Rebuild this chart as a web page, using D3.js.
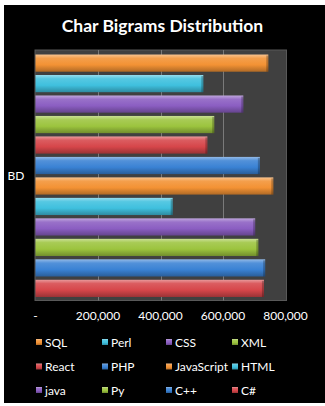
<body style="margin:0">
<script src="https://d3js.org/d3.v7.min.js"></script>
<script>

var title = "Char Bigrams Distribution";
var category = "BD";
var series = ["SQL", "Perl", "CSS", "XML", "React", "PHP", "JavaScript", "HTML", "java", "Py", "C++", "C#"];
var values = [745000, 537000, 665000, 572000, 550000, 718000, 761000, 439000, 703000, 713000, 735000, 731000];
var colors = ["#F39234", "#3FC0DE", "#8B5EC2", "#9CC43E", "#D6464A", "#3A82D4",
              "#F39234", "#3FC0DE", "#8B5EC2", "#9CC43E", "#3A82D4", "#D6464A"];
var ticks = [0, 200000, 400000, 600000, 800000];

var W = 325, H = 406;
var plot = {x: 35, y: 50, w: 251.5, h: 250.5};

var svg = d3.select("body").append("svg")
    .attr("width", W).attr("height", H)
    .style("display", "block")
    .style("font-family", "Lato, 'Open Sans', sans-serif");

svg.append("rect").attr("width", W).attr("height", H).attr("fill", "#fff");
svg.append("rect").attr("x", 4).attr("y", 5).attr("width", W - 4).attr("height", 398).attr("fill", "#000");

// gradients for the bevelled bars
var defs = svg.append("defs");
colors.forEach(function(c, i) {
  var g = defs.append("linearGradient").attr("id", "g" + i)
      .attr("x1", 0).attr("y1", 0).attr("x2", 0).attr("y2", 1);
  g.append("stop").attr("offset", 0).attr("stop-color", d3.interpolateRgb(c, "#fff")(0.45));
  g.append("stop").attr("offset", 0.22).attr("stop-color", d3.interpolateRgb(c, "#fff")(0.12));
  g.append("stop").attr("offset", 0.6).attr("stop-color", c);
  g.append("stop").attr("offset", 1).attr("stop-color", d3.color(c).darker(0.9));
});

var x = d3.scaleLinear().domain([0, 800000]).range([plot.x + 0.5, plot.x + 250.5]);
var y = d3.scaleBand().domain(series)
    .range([plot.y + 3.5, plot.y + plot.h - 2.5])
    .paddingInner(0.16).paddingOuter(0.05);

svg.append("rect")
    .attr("x", plot.x).attr("y", plot.y)
    .attr("width", plot.w).attr("height", plot.h)
    .attr("fill", "#404040")
    .attr("stroke", "#595959").attr("stroke-width", 1);

svg.append("g").selectAll("line").data(ticks.slice(1, -1)).enter().append("line")
    .attr("x1", d => Math.round(x(d)) + 0.5).attr("x2", d => Math.round(x(d)) + 0.5)
    .attr("y1", plot.y).attr("y2", plot.y + plot.h)
    .attr("stroke", "#7a7a7a").attr("stroke-width", 1);

var bars = svg.append("g").selectAll("g").data(series).enter().append("g");

bars.append("rect")
    .attr("x", x(0)).attr("y", d => y(d))
    .attr("width", (d, i) => x(values[i]) - x(0))
    .attr("height", y.bandwidth())
    .attr("fill", (d, i) => "url(#g" + i + ")");

// darker bevel at the bar end
bars.append("rect")
    .attr("x", (d, i) => x(values[i]) - 2).attr("y", d => y(d) + 1)
    .attr("width", 2).attr("height", y.bandwidth() - 1)
    .attr("fill", "#000").attr("opacity", 0.25);

svg.append("g").selectAll("text").data(ticks).enter().append("text")
    .attr("x", d => x(d)).attr("y", 320)
    .attr("text-anchor", "middle")
    .attr("fill", "#fff").attr("font-size", 12)
    .text(d => d === 0 ? "-" : d3.format(",")(d));

svg.append("text")
    .attr("x", 16).attr("y", plot.y + plot.h / 2 + 5)
    .attr("text-anchor", "middle")
    .attr("fill", "#fff").attr("font-size", 12)
    .text(category);

svg.append("text")
    .attr("x", 162.5).attr("y", 32)
    .attr("text-anchor", "middle")
    .attr("fill", "#fff").attr("font-size", 17.5).attr("font-weight", "bold")
    .text(title);

// legend, four per row
var cols = [36, 102, 166, 232], rows = [342, 366.5, 390];
var legend = svg.append("g").attr("font-size", 12).attr("fill", "#fff");
var prevEnd = 0;
series.forEach(function(s, i) {
  var c = i % 4, r = Math.floor(i / 4);
  var lx = c === 0 ? cols[0] : Math.max(cols[c], prevEnd + 3);
  legend.append("rect")
      .attr("x", lx).attr("y", rows[r] - 3).attr("width", 6).attr("height", 6)
      .attr("fill", "url(#g" + i + ")");
  var t = legend.append("text")
      .attr("x", lx + 9).attr("y", rows[r] + 4.5)
      .text(s);
  prevEnd = lx + 9 + t.node().getComputedTextLength();
});

</script>
</body>
